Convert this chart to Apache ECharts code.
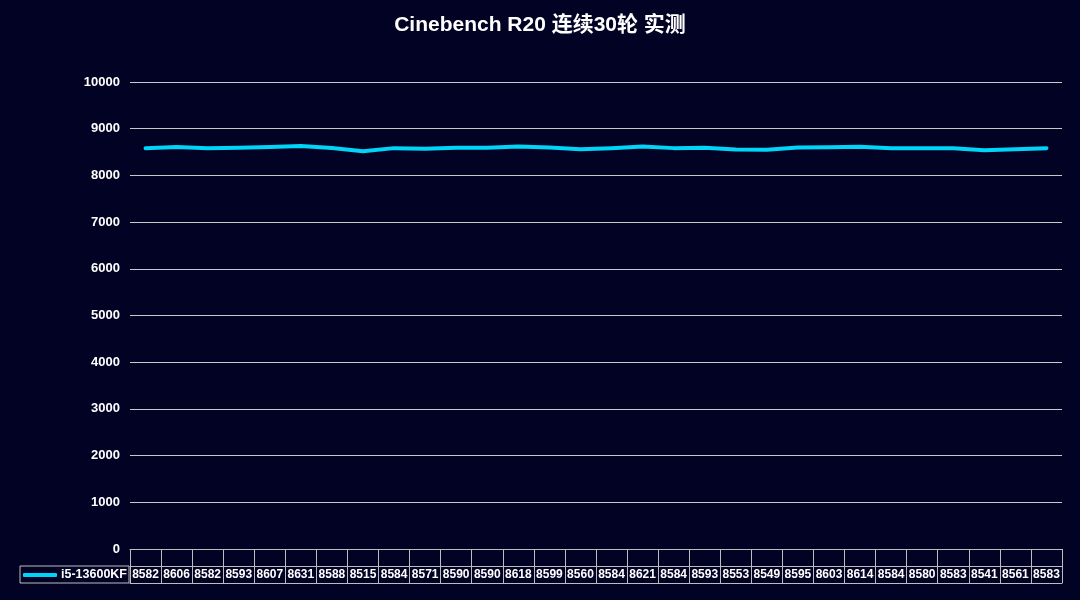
<!DOCTYPE html>
<html>
<head>
<meta charset="utf-8">
<script src="https://cdn.jsdelivr.net/npm/echarts@6/dist/echarts.min.js"></script>
<style>
html,body{margin:0;padding:0;background:#020224;}
#chart{width:1080px;height:600px;}
</style>
</head>
<body>
<div id="chart"></div>
<script>
const titleText = 'Cinebench R20 连续30轮 实测';
const seriesName = 'i5-13600KF';
const rounds = ['1','2','3','4','5','6','7','8','9','10','11','12','13','14','15','16','17','18','19','20','21','22','23','24','25','26','27','28','29','30'];
const scores = [8582, 8606, 8582, 8593, 8607, 8631, 8588, 8515, 8584, 8571, 8590, 8590, 8618, 8599, 8560, 8584, 8621, 8584, 8593, 8553, 8549, 8595, 8603, 8614, 8584, 8580, 8583, 8541, 8561, 8583];
const yMin = 0, yMax = 10000, yStep = 1000;

const FONT = "'Liberation Sans', Arial, 'Noto Sans CJK SC', sans-serif";
const GRID_COLOR = '#c8c8c8';
const TABLE_COLOR = '#bdbdbd';
const LINE_COLOR = '#00d4f7';

const chart = echarts.init(document.getElementById('chart'));
chart.setOption({
  backgroundColor: '#020224',
  animation: false,
  title: {
    text: titleText, left: 'center', top: 10,
    textStyle: { color: '#ffffff', fontSize: 21, fontWeight: 'bold', fontFamily: FONT }
  },
  legend: {
    data: [seriesName],
    left: 20, top: 566,
    orient: 'horizontal',
    icon: 'roundRect',
    itemWidth: 34, itemHeight: 4, itemGap: 0,
    padding: [2, 2, 1, 3],
    borderColor: TABLE_COLOR, borderWidth: 1,
    textStyle: { color: '#ffffff', fontSize: 12.5, fontWeight: 'bold', fontFamily: FONT, lineHeight: 14, padding: [0, 0, 0, -1] }
  },
  grid: { left: 130, right: 18, top: 82, bottom: 51, containLabel: false },
  xAxis: [
    {
      type: 'category', data: rounds, position: 'bottom', boundaryGap: true,
      axisLine: { show: true, lineStyle: { color: TABLE_COLOR, width: 1 } },
      axisTick: { show: true, interval: 0, length: 17, lineStyle: { color: TABLE_COLOR } },
      axisLabel: { show: false }
    },
    {
      type: 'category', data: scores.map(String), position: 'bottom', offset: 17, boundaryGap: true,
      axisLine: { show: true, lineStyle: { color: TABLE_COLOR, width: 1 } },
      axisTick: { show: true, interval: 0, length: 17, lineStyle: { color: TABLE_COLOR } },
      axisLabel: { show: true, interval: 0, margin: 3, color: '#ffffff', fontSize: 12, fontWeight: 'bold', fontFamily: FONT }
    },
    {
      type: 'category', data: rounds, position: 'bottom', offset: 34, boundaryGap: true,
      axisLine: { show: true, lineStyle: { color: TABLE_COLOR, width: 1 } },
      axisTick: { show: false },
      axisLabel: { show: false }
    }
  ],
  yAxis: {
    type: 'value', min: yMin, max: yMax, interval: yStep,
    axisLine: { show: false }, axisTick: { show: false },
    axisLabel: { color: '#ffffff', fontSize: 13, fontWeight: 'bold', fontFamily: FONT, margin: 10, formatter: v => String(v) },
    splitLine: { show: true, lineStyle: { color: GRID_COLOR, width: 1 } }
  },
  series: [{
    name: seriesName, type: 'line', xAxisIndex: 0, data: scores,
    symbol: 'none', smooth: false,
    itemStyle: { color: LINE_COLOR },
    lineStyle: { color: LINE_COLOR, width: 4, cap: 'round', join: 'round' }
  }]
});
</script>
</body>
</html>
